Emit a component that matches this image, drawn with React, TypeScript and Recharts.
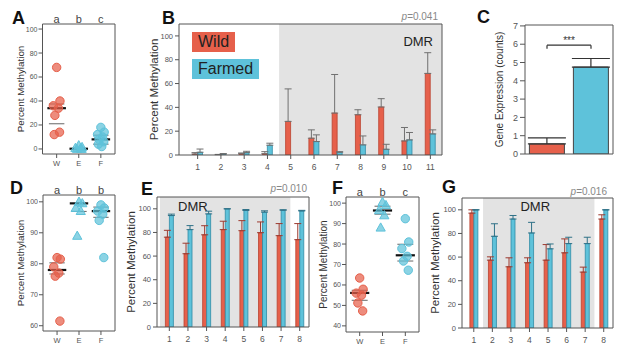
import React from 'react';
import {
  ComposedChart,
  ScatterChart,
  Scatter,
  Bar,
  Cell,
  XAxis,
  YAxis,
  ErrorBar,
  ReferenceLine,
  ReferenceArea,
  ReferenceDot,
  Legend,
} from 'recharts';

const FONT = '"Liberation Sans", Arial, Helvetica, sans-serif';
const RED = '#e6604b';
const RED_EDGE = '#b9412f';
const CYAN = '#5ec2da';
const CYAN_EDGE = '#2e8ca6';
const AXIS = '#555';
const SHADE = '#e3e3e3';

// scatter panels (A, D, F): W = wild, E = escaped, F = farmed
const groupNames = ['W', 'E', 'F'];

const aLetters = ['a', 'b', 'c'];
const aWild = [68, 40, 36, 34, 28, 14, 12];
const aEsc = [3, 1.5, 0.8, 0.3, 0, 0];
const aFarm = [18, 14, 12, 10, 8, 6, 4, 2];
const aMean = [34, 0.2, 8];
const aUpper = [37.5, null, 11.5];
const aLower = [21, null, 4];
const aTicks = [0, 20, 40, 60, 80, 100];

const dLetters = ['a', 'b', 'b'];
const dWild = [82, 81.5, 79, 77, 76, 61.5];
const dEsc = [100, 99.5, 98, 97, 89];
const dFarm = [99, 98, 97, 96, 94, 82];
const dMean = [78, 99.5, 97];
const dUpper = [80.3, null, 98.3];
const dLower = [76.7, 96.9, 95];
const dTicks = [60, 70, 80, 90, 100];

const fLetters = ['a', 'b', 'c'];
const fWild = [63.4, 57.9, 56, 55, 51.2, 47.3];
const fEsc = [100.5, 99, 96.5, 94, 88];
const fFarm = [92.4, 81, 77.8, 74, 71.7, 67.2];
const fMean = [56.1, 96.4, 74.5];
const fUpper = [57.4, 98.5, 79.9];
const fLower = [52.5, 94.6, 71.7];
const fTicks = [40, 50, 60, 70, 80, 90, 100];

// panel B
const bSites = ['1', '2', '3', '4', '5', '6', '7', '8', '9', '10', '11'];
const bWild = [0.8, 0.3, 1.1, 1.1, 28.2, 14.1, 35.2, 33.8, 40.3, 11.8, 68.5];
const bWildErr = [1.2, 0.2, 0.6, 1.7, 27.3, 7, 32.4, 4.2, 7, 11.3, 17.4];
const bFarm = [2.3, 0.8, 2, 8.2, 0, 11.3, 2.3, 8.5, 4.8, 12.7, 17.7];
const bFarmErr = [2.7, 0.4, 1.1, 1.7, null, 5.6, 0.5, 7.5, 4.2, 6.2, 3.4];

// panel C
const cGroups = ['Wild', 'Farmed'];
const cExpr = [0.55, 4.75];
const cErr = [0.33, 0.47];
const cBracket = 5.95;
const cTicks = [0, 1, 2, 3, 4, 5, 6, 7];

// panel E
const eSites = ['1', '2', '3', '4', '5', '6', '7', '8'];
const eWild = [76, 62, 78, 82.4, 81.5, 79.8, 77.3, 73.9];
const eWildErr = [5.8, 8.9, 7.7, 7.1, 8.5, 9.1, 10.2, 13.6];
const eFarm = [94.3, 82.4, 95.7, 100, 98.6, 97.2, 98.8, 98.2];
const eFarmErr = [1.2, 3.4, 2.3, 0, 0.8, 1.1, 0.4, 0.5];

// panel G
const gSites = ['1', '2', '3', '4', '5', '6', '7', '8'];
const gWild = [97.2, 57.4, 51.8, 55.2, 57.4, 63.6, 47.3, 92.2];
const gWildErr = [2.8, 2.8, 7.6, 4.2, 13.2, 11.8, 4.2, 3.6];
const gFarm = [100, 77.6, 92.2, 80.4, 67, 71.4, 71.4, 100];
const gFarmErr = [0, 10.6, 3, 9, 4.1, 5.4, 5.4, 0];

const pctTicks = [0, 20, 40, 60, 80, 100];
const PCT_MAX = 110;

const YW = 30;
const XH = 20;
const frame = (L: number, T: number, R: number, B: number) => ({
  left: L - YW,
  top: T,
  right: 620 - R,
  bottom: 352 - B - XH,
});
const layer: React.CSSProperties = { position: 'absolute', left: 0, top: 0 };
const tickStyle = (fs: number) => ({ fontSize: fs, fill: '#555', fontFamily: FONT });
const yLab = (value: string, offset: number, size: number) => ({
  value,
  angle: -90,
  position: 'insideLeft' as const,
  offset,
  style: { textAnchor: 'middle', fontSize: size, fill: '#333', fontFamily: FONT },
});

const siteRows = (sites: string[], w: number[], we: (number | null)[], f: number[], fe: (number | null)[]) =>
  sites.map((s, i) => ({
    site: s,
    wild: w[i],
    farmed: f[i],
    wildErr: we[i] == null ? null : [0, we[i]],
    farmedErr: fe[i] == null ? null : [0, fe[i]],
  }));

// small horizontal spread so overlapping points stay visible
const JIT = [0, 0.15, -0.15, 0.08, -0.08, 0.13, -0.11, 0.04];

function Marker({ cx, cy, color, tri }: any) {
  if (cx == null || cy == null) return null;
  if (tri) {
    return (
      <polygon
        points={`${cx},${cy - 4.8} ${cx - 4.6},${cy + 3.4} ${cx + 4.6},${cy + 3.4}`}
        fill={color}
        fillOpacity={0.72}
        stroke={color}
        strokeWidth={1}
      />
    );
  }
  return <circle cx={cx} cy={cy} r={4.2} fill={color} fillOpacity={0.72} stroke={color} strokeWidth={1} />;
}

function ScatterPanel({ box, xDomain, yDomain, yTicks, letters, wild, esc, farm, mean, upper, lower, labelOffset, labelSize }: any) {
  const [L, T, R, B] = box;
  const groups = [
    { pts: wild as number[], color: RED, tri: false },
    { pts: esc as number[], color: CYAN, tri: true },
    { pts: farm as number[], color: CYAN, tri: false },
  ];
  return (
    <div style={layer}>
      <ScatterChart width={620} height={352} margin={frame(L, T, R, B)}>
        <XAxis
          type="number"
          dataKey="x"
          domain={xDomain}
          ticks={[1, 2, 3]}
          tickFormatter={(v: number) => groupNames[v - 1]}
          allowDataOverflow
          height={XH}
          tick={tickStyle(7.5)}
          tickSize={4}
          tickMargin={3}
          tickLine={{ stroke: AXIS }}
          axisLine={{ stroke: AXIS }}
        />
        <YAxis
          type="number"
          dataKey="y"
          domain={yDomain}
          ticks={yTicks}
          allowDataOverflow
          width={YW}
          tick={tickStyle(7)}
          tickSize={4}
          tickMargin={1}
          tickLine={{ stroke: AXIS }}
          axisLine={{ stroke: AXIS }}
          label={yLab('Percent Methylation', labelOffset, labelSize)}
        />
        <ReferenceLine y={yDomain[1]} stroke={AXIS} ifOverflow="visible" />
        <ReferenceLine x={xDomain[1]} stroke={AXIS} ifOverflow="visible" />
        {groups.map((g, gi) => (
          <Scatter
            key={gi}
            data={g.pts.map((v, i) => ({ x: gi + 1 + JIT[i % JIT.length], y: v }))}
            shape={(p: any) => <Marker cx={p.cx} cy={p.cy} color={g.color} tri={g.tri} />}
            isAnimationActive={false}
          />
        ))}
        {(upper as (number | null)[]).map((v, i) =>
          v == null ? null : (
            <ReferenceLine key={'u' + i} segment={[{ x: i + 1 - 0.35, y: v }, { x: i + 1 + 0.35, y: v }]} stroke="#666" strokeWidth={1} />
          ),
        )}
        {(lower as (number | null)[]).map((v, i) =>
          v == null ? null : (
            <ReferenceLine key={'l' + i} segment={[{ x: i + 1 - 0.35, y: v }, { x: i + 1 + 0.35, y: v }]} stroke="#666" strokeWidth={1} />
          ),
        )}
        {(mean as number[]).map((v, i) => (
          <ReferenceLine key={'m' + i} segment={[{ x: i + 1 - 0.42, y: v }, { x: i + 1 + 0.42, y: v }]} stroke="#111" strokeWidth={2.2} />
        ))}
        {(letters as string[]).map((s, i) => (
          <ReferenceDot
            key={'t' + i}
            x={i + 1}
            y={yDomain[1]}
            r={1}
            fill="none"
            stroke="none"
            ifOverflow="visible"
            label={{ value: s, position: 'top', offset: 0, fontSize: 11, fill: '#444', fontFamily: FONT }}
          />
        ))}
      </ScatterChart>
    </div>
  );
}

function DmrTag(props: any) {
  const { viewBox, anchor, dx, dy } = props;
  if (!viewBox) return null;
  const x =
    anchor === 'end'
      ? viewBox.x + viewBox.width - dx
      : anchor === 'middle'
        ? viewBox.x + viewBox.width / 2 + dx
        : viewBox.x + dx;
  return (
    <text x={x} y={viewBox.y + dy} textAnchor={anchor} fontSize={13} fill="#222" fontFamily={FONT}>
      DMR
    </text>
  );
}

const legendOrder = ['Wild', 'Farmed'];

function SwatchLegend({ payload }: any) {
  const items = [...(payload || [])].sort((p: any, q: any) => legendOrder.indexOf(p.value) - legendOrder.indexOf(q.value));
  return (
    <div>
      {items.map((p: any) => (
        <div
          key={p.value}
          style={{
            display: 'table',
            background: p.color,
            padding: '0 6px',
            height: 20,
            lineHeight: '20px',
            fontSize: 16,
            color: '#222',
            marginBottom: 7,
            fontFamily: FONT,
          }}
        >
          {p.value}
        </div>
      ))}
    </div>
  );
}

function SitePanel({ box, rows, padLeft, dmrFrom, dmrTo, tag, errWild, errFarm, labelOffset, labelSize, gap, legend }: any) {
  const [L, T, R, B] = box;
  const last = rows[rows.length - 1].site;
  return (
    <div style={layer}>
      <ComposedChart width={620} height={352} data={rows} margin={frame(L, T, R, B)} barGap={0} barCategoryGap={gap}>
        <ReferenceArea
          x1={dmrFrom}
          x2={dmrTo}
          fill={SHADE}
          fillOpacity={1}
          stroke="none"
          label={(p: any) => <DmrTag {...p} {...tag} />}
        />
        <XAxis
          dataKey="site"
          padding={{ left: padLeft, right: 0 }}
          interval={0}
          height={XH}
          tick={tickStyle(8.5)}
          tickSize={4}
          tickMargin={5}
          tickLine={{ stroke: AXIS }}
          axisLine={{ stroke: AXIS }}
        />
        <YAxis
          type="number"
          domain={[0, PCT_MAX]}
          ticks={pctTicks}
          allowDataOverflow
          width={YW}
          tick={tickStyle(7.5)}
          tickSize={4}
          tickMargin={2}
          tickLine={{ stroke: AXIS }}
          axisLine={{ stroke: AXIS }}
          label={yLab('Percent Methylation', labelOffset, labelSize)}
        />
        <ReferenceLine y={PCT_MAX} stroke={AXIS} ifOverflow="visible" />
        <ReferenceLine x={last} position="end" stroke={AXIS} ifOverflow="visible" />
        <Bar dataKey="wild" name="Wild" fill={RED} stroke={RED_EDGE} strokeWidth={0.8} isAnimationActive={false}>
          <ErrorBar dataKey="wildErr" width={3.5} stroke={errWild} strokeWidth={1} />
        </Bar>
        <Bar dataKey="farmed" name="Farmed" fill={CYAN} stroke={CYAN_EDGE} strokeWidth={0.8} isAnimationActive={false}>
          <ErrorBar dataKey="farmedErr" width={3.5} stroke={errFarm} strokeWidth={1} />
        </Bar>
        {legend && (
          <Legend
            layout="horizontal"
            verticalAlign="middle"
            wrapperStyle={{ left: 192, top: 32, width: 'auto', height: 'auto' }}
            content={<SwatchLegend />}
          />
        )}
      </ComposedChart>
    </div>
  );
}

function ExpressionPanel() {
  const rows = cGroups.map((g, i) => ({ group: g, value: cExpr[i], err: [0, cErr[i]] }));
  const top = 7.05;
  return (
    <div style={layer}>
      <ComposedChart width={620} height={352} data={rows} margin={frame(525, 25, 613, 154)} barCategoryGap="10%">
        <XAxis dataKey="group" height={XH} tick={false} tickLine={false} axisLine={{ stroke: AXIS }} />
        <YAxis
          type="number"
          domain={[0, top]}
          ticks={cTicks}
          allowDataOverflow
          width={YW}
          tick={tickStyle(9)}
          tickSize={5}
          tickMargin={2}
          tickLine={{ stroke: AXIS }}
          axisLine={{ stroke: AXIS }}
          label={yLab('Gene Expression (counts)', 4, 10)}
        />
        <ReferenceLine y={top} stroke={AXIS} ifOverflow="visible" />
        <ReferenceLine x={cGroups[cGroups.length - 1]} position="end" stroke={AXIS} ifOverflow="visible" />
        <Bar dataKey="value" stroke="#444" strokeWidth={1} isAnimationActive={false}>
          {rows.map((r, i) => (
            <Cell key={r.group} fill={i === 0 ? RED : CYAN} />
          ))}
          <ErrorBar dataKey="err" width={19} stroke="#333" strokeWidth={1.2} />
        </Bar>
        <ReferenceLine
          segment={[{ x: cGroups[0], y: cBracket }, { x: cGroups[1], y: cBracket }]}
          stroke="#333"
          strokeWidth={1.2}
          label={{ value: '***', position: 'top', offset: 1, fontSize: 10, fill: '#333', fontFamily: FONT }}
        />
        <ReferenceLine segment={[{ x: cGroups[0], y: cBracket }, { x: cGroups[0], y: cBracket - 0.2 }]} stroke="#333" strokeWidth={1.2} />
        <ReferenceLine segment={[{ x: cGroups[1], y: cBracket }, { x: cGroups[1], y: cBracket - 0.2 }]} stroke="#333" strokeWidth={1.2} />
      </ComposedChart>
    </div>
  );
}

function Letter({ x, base, children }: any) {
  return (
    <div style={{ position: 'absolute', left: x, top: base - 15.2, fontSize: 18, lineHeight: 1, fontWeight: 700, color: '#111', fontFamily: FONT }}>
      {children}
    </div>
  );
}

function PValue({ right, base, value }: any) {
  return (
    <div style={{ position: 'absolute', right: 620 - right, top: base - 8.5, fontSize: 10, lineHeight: 1, color: '#888', fontFamily: FONT, whiteSpace: 'nowrap' }}>
      <i>p</i>={value}
    </div>
  );
}

export default function App() {
  return (
    <div style={{ position: 'absolute', left: 0, top: 0, width: 620, height: 352, background: '#fff', overflow: 'hidden', fontFamily: FONT }}>
      <ScatterPanel
        box={[42.5, 24, 115, 154]}
        xDomain={[0.36, 3.64]}
        yDomain={[-4.2, 104.2]}
        yTicks={aTicks}
        letters={aLetters}
        wild={aWild}
        esc={aEsc}
        farm={aFarm}
        mean={aMean}
        upper={aUpper}
        lower={aLower}
        labelOffset={8.5}
        labelSize={9.8}
      />
      <SitePanel
        box={[179, 24, 442, 155]}
        rows={siteRows(bSites, bWild, bWildErr, bFarm, bFarmErr)}
        padLeft={7}
        dmrFrom="5"
        tag={{ anchor: 'end', dx: 9, dy: 21.7 }}
        errWild="#707070"
        errFarm="#707070"
        labelOffset={5}
        labelSize={11.5}
        gap="28%"
        legend
      />
      <ExpressionPanel />
      <ScatterPanel
        box={[43, 195, 115, 331]}
        xDomain={[0.36, 3.64]}
        yDomain={[58.3, 102.2]}
        yTicks={dTicks}
        letters={dLetters}
        wild={dWild}
        esc={dEsc}
        farm={dFarm}
        mean={dMean}
        upper={dUpper}
        lower={dLower}
        labelOffset={8}
        labelSize={9.8}
      />
      <SitePanel
        box={[157, 197, 309, 327]}
        rows={siteRows(eSites, eWild, eWildErr, eFarm, eFarmErr)}
        padLeft={3}
        dmrTo="7"
        tag={{ anchor: 'start', dx: 18, dy: 13.7 }}
        errWild="#9c3a2f"
        errFarm="#2f7187"
        labelOffset={4}
        labelSize={11.5}
        gap="29%"
      />
      <ScatterPanel
        box={[346, 197, 419, 332]}
        xDomain={[0.4, 3.6]}
        yDomain={[37, 103]}
        yTicks={fTicks}
        letters={fLetters}
        wild={fWild}
        esc={fEsc}
        farm={fFarm}
        mean={fMean}
        upper={fUpper}
        lower={fLower}
        labelOffset={7}
        labelSize={10}
      />
      <SitePanel
        box={[462, 198, 613, 328]}
        rows={siteRows(gSites, gWild, gWildErr, gFarm, gFarmErr)}
        padLeft={2.5}
        dmrFrom="2"
        dmrTo="7"
        tag={{ anchor: 'middle', dx: -3.5, dy: 12.7 }}
        errWild="#9c3a2f"
        errFarm="#2f7187"
        labelOffset={3}
        labelSize={11.5}
        gap="29%"
      />
      <Letter x={12} base={24.5}>A</Letter>
      <Letter x={162} base={24}>B</Letter>
      <Letter x={477} base={23}>C</Letter>
      <Letter x={10} base={194}>D</Letter>
      <Letter x={141} base={195}>E</Letter>
      <Letter x={332} base={194}>F</Letter>
      <Letter x={442} base={193}>G</Letter>
      <PValue right={438} base={20} value="0.041" />
      <PValue right={307} base={192} value="0.010" />
      <PValue right={607} base={195.5} value="0.016" />
    </div>
  );
}
